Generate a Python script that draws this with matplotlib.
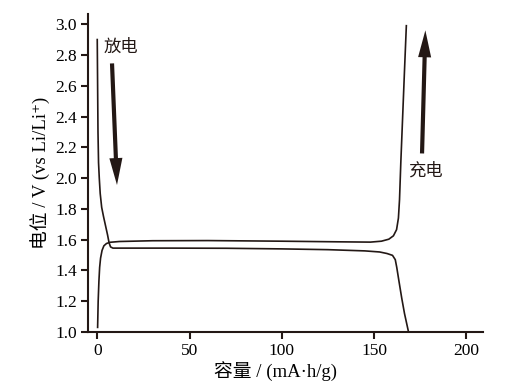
import matplotlib
matplotlib.use("Agg")
import matplotlib.pyplot as plt
from matplotlib.patches import ArrowStyle, FancyArrowPatch

# discharge curve (capacity mAh/g, potential V)
dis_x = [0, 0.2, 0.4, 0.7, 1.1, 1.6, 2.4, 3.4, 4.5, 5.6, 6.4, 7.2, 8.5, 20, 40, 70, 100, 125, 145, 153, 157, 160, 161.5, 162.3, 163.5, 165, 166.5, 168.5]
dis_v = [2.90, 2.60, 2.30, 2.10, 2.00, 1.90, 1.81, 1.75, 1.69, 1.63, 1.58, 1.553, 1.545, 1.545, 1.545, 1.544, 1.540, 1.535, 1.527, 1.520, 1.510, 1.498, 1.470, 1.420, 1.330, 1.220, 1.120, 1.010]

# charge curve
chg_x = [0.2, 0.5, 0.9, 1.3, 1.8, 2.6, 3.6, 5, 7, 12, 30, 60, 100, 130, 148, 154, 158, 160.5, 162.2, 163.2, 163.8, 164.5, 165.5, 166.5, 167.5]
chg_v = [1.03, 1.20, 1.33, 1.42, 1.48, 1.53, 1.56, 1.575, 1.583, 1.588, 1.593, 1.594, 1.590, 1.586, 1.584, 1.590, 1.603, 1.625, 1.665, 1.740, 1.860, 2.100, 2.400, 2.700, 2.990]

x_ticks = [0, 50, 100, 150, 200]
y_ticks = [1.0, 1.2, 1.4, 1.6, 1.8, 2.0, 2.2, 2.4, 2.6, 2.8, 3.0]

fam = ['Liberation Serif', 'Noto Sans CJK SC', 'DejaVu Serif']
cjk = ['Noto Sans CJK SC', 'DejaVu Sans']
ink = '#231815'

fig = plt.figure(figsize=(5.05, 3.9), dpi=100)
ax = fig.add_axes([0.1743, 0.1487, 0.782, 0.815])

ax.plot(dis_x, dis_v, color=ink, lw=1.2)
ax.plot(chg_x, chg_v, color=ink, lw=1.2)

ax.set_xlim(-5, 209)
ax.set_ylim(1.0, 3.065)
ax.set_xticks(x_ticks)
ax.set_yticks(y_ticks)
ax.set_xticklabels([str(t) for t in x_ticks], fontfamily=fam, fontsize=12.5)
ax.set_yticklabels([f"{t:.1f}" for t in y_ticks], fontfamily=fam, fontsize=12.5)
for s in ['top', 'right']:
    ax.spines[s].set_visible(False)
for s in ['left', 'bottom']:
    ax.spines[s].set_linewidth(1.5)
    ax.spines[s].set_color(ink)
ax.tick_params(direction='out', length=5, width=1.5, color=ink, pad=3)

ax.set_xlabel('容量 / (mA·h/g)', fontfamily=fam, fontsize=13.5, labelpad=2)
ax.xaxis.set_label_coords(0.476, -0.093)
ax.set_ylabel('电位 / V (vs Li/Li⁺)', fontfamily=fam, fontsize=13.5, labelpad=4)

style = ArrowStyle('simple', head_length=0.97, head_width=0.47, tail_width=0.15)
for tail, tip in [((8.0, 2.745), (10.7, 1.955)), ((176.0, 2.16), (177.8, 2.96))]:
    ax.add_patch(FancyArrowPatch(tail, tip, arrowstyle=style, mutation_scale=20,
                                 lw=0, color=ink, shrinkA=0, shrinkB=0))

ax.text(3.3, 2.85, '放电', fontfamily=cjk, fontsize=12.5, color=ink, ha='left', va='center')
ax.text(168.6, 2.05, '充电', fontfamily=cjk, fontsize=12.5, color=ink, ha='left', va='center')

fig.savefig('out.png', dpi=100)
